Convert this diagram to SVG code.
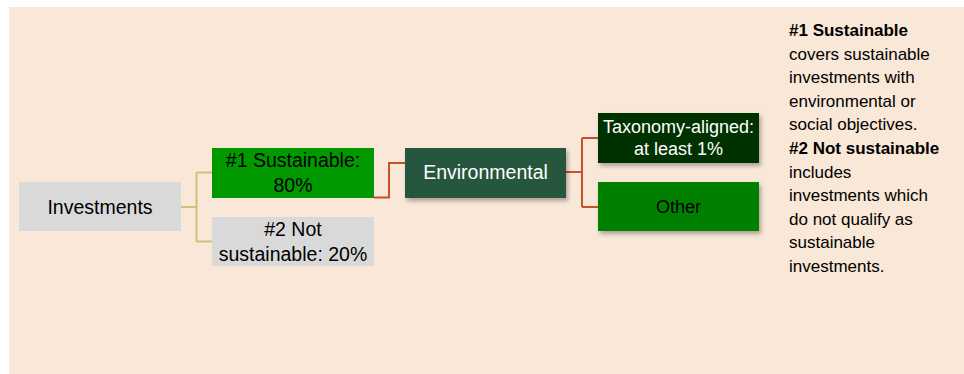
<svg xmlns="http://www.w3.org/2000/svg" width="964" height="374" viewBox="0 0 964 374">
<style>
.t{font-family:"Liberation Sans",Arial,sans-serif;text-anchor:middle}
.n{font-size:19.5px}
.s{font-size:18px}
.side{font-family:"Liberation Sans",Arial,sans-serif;font-size:17px;fill:#000}
.c1{fill:none;stroke:#cfc07a;stroke-width:2}
.c2{fill:none;stroke:#c9502c;stroke-width:2}
</style>
<defs>
<filter id="sh" x="-10%" y="-20%" width="125%" height="150%">
<feDropShadow dx="2" dy="3" stdDeviation="2" flood-color="#000" flood-opacity="0.3"/>
</filter>
</defs>
<rect x="9" y="7" width="955" height="367" fill="#f9e7d7"/>
<g id="connectors">
<path class="c1" d="M181 207 H196.5 M196.5 172.5 V241.5 M196.5 172.5 H212 M196.5 241.5 H212"/>
<path class="c2" d="M374 197.5 H389 V163 H405"/>
<path class="c2" d="M566 172 H582 M582 138 V207 M582 138 H598 M582 207 H598"/>
</g>
<g id="investments">
<rect x="19" y="182" width="162" height="49" fill="#d9d9d9"/>
<text class="t n" x="100" y="213.5" fill="#000">Investments</text>
</g>
<g id="sustainable">
<rect x="212" y="148" width="162" height="50" fill="#009900"/>
<text class="t n" x="293" y="167" fill="#000">#1 Sustainable:</text>
<text class="t n" x="293" y="192" fill="#000">80%</text>
</g>
<g id="not-sustainable">
<rect x="212" y="217" width="162" height="49" fill="#d9d9d9"/>
<text class="t n" x="293" y="236" fill="#000">#2 Not</text>
<text class="t n" x="293" y="260.5" fill="#000">sustainable: 20%</text>
</g>
<g id="environmental">
<rect x="405" y="148" width="161" height="50" fill="#25573c" filter="url(#sh)"/>
<text class="t n" x="485.5" y="179" fill="#fff">Environmental</text>
</g>
<g id="taxonomy">
<rect x="598" y="113" width="161" height="50" fill="#003300" filter="url(#sh)"/>
<text class="t s" x="678.5" y="133" fill="#fff">Taxonomy-aligned:</text>
<text class="t s" x="678.5" y="154.5" fill="#fff">at least 1%</text>
</g>
<g id="other">
<rect x="598" y="182" width="161" height="49" fill="#008000" filter="url(#sh)"/>
<text class="t s" x="678.5" y="213" fill="#000">Other</text>
</g>
<g id="legend">
<text class="side" x="789" y="36" font-weight="bold">#1 Sustainable</text>
<text class="side" x="789" y="59.6">covers sustainable</text>
<text class="side" x="789" y="83.2">investments with</text>
<text class="side" x="789" y="106.8">environmental or</text>
<text class="side" x="789" y="130.4">social objectives.</text>
<text class="side" x="789" y="154" font-weight="bold">#2 Not sustainable</text>
<text class="side" x="789" y="177.6">includes</text>
<text class="side" x="789" y="201.2">investments which</text>
<text class="side" x="789" y="224.8">do not qualify as</text>
<text class="side" x="789" y="248.4">sustainable</text>
<text class="side" x="789" y="272">investments.</text>
</g>
</svg>
